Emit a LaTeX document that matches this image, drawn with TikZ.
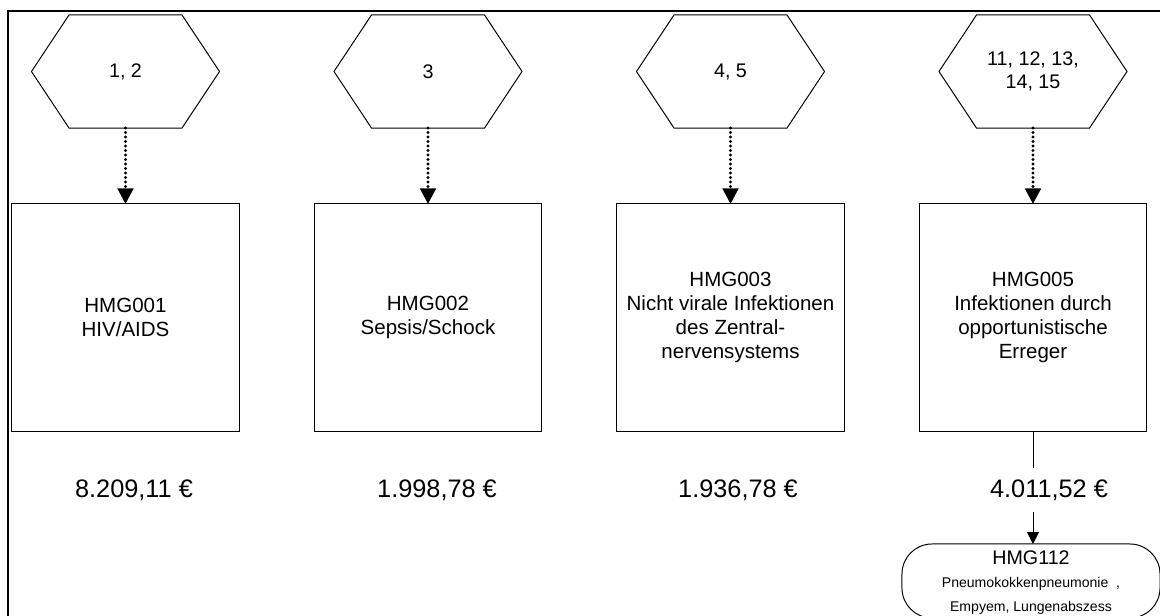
\documentclass[tikz,border=0pt]{standalone}
\usepackage{fontspec}
\setmainfont{Liberation Sans}
\usetikzlibrary{
  arrows.meta,
}
\tikzset{
  hexnode/.style={minimum width=2.825cm,minimum height=2.825cm,inner sep=0pt,outer sep=0pt,align=center,font=\fontsize{14}{16.5}\selectfont},
  hmgbox/.style={draw,minimum width=5.675cm,minimum height=5.675cm,inner sep=1pt,outer sep=0pt,align=center,font=\fontsize{14.6}{17}\selectfont},
  costnode/.style={minimum height=1.1cm,inner sep=0pt,outer sep=0pt,font=\fontsize{18}{21}\selectfont},
  dotarrow/.style={line width=2.2pt,line cap=round,dash pattern=on 0pt off 3.2pt,-{Triangle[width=11pt,length=11pt]}},
  linearrow/.style={-{Triangle[width=8.5pt,length=8.5pt]}},
}
\newcommand\hexoutline[1]{%
  \draw (#1.north west) -- (#1.north east) -- ([xshift=0.9375cm]#1.east)
    -- (#1.south east) -- (#1.south west) -- ([xshift=-0.9375cm]#1.west) -- cycle;}
\begin{document}
\begin{tikzpicture}[x=0.025cm,y=-0.025cm,line width=0.7pt]
\useasboundingbox (0,0) rectangle (1160,616);
\draw[line width=1.8pt] (8,11) rectangle (1180,640);

\node[hexnode] (hex1) at (125.5,71.5) {1, 2};
\node[hexnode] (hex2) at (428,71.5) {3};
\node[hexnode] (hex3) at (730.5,71.5) {4, 5};
\node[hexnode] (hex4) at (1033,71.5) {11, 12, 13,\\14, 15};
\hexoutline{hex1}
\hexoutline{hex2}
\hexoutline{hex3}
\hexoutline{hex4}

\node[hmgbox] (hmg1) at (125.5,317.5) {HMG001\\HIV/AIDS};
\node[hmgbox] (hmg2) at (428,317.5) {HMG002\\Sepsis/Schock};
\node[hmgbox] (hmg3) at (730.5,317.5) {HMG003\\Nicht virale Infektionen\\des Zentral-\\nervensystems};
\node[hmgbox] (hmg5) at (1033,317.5) {HMG005\\Infektionen durch\\opportunistische\\Erreger};

\draw[dotarrow] (hex1.south) -- (hmg1.north);
\draw[dotarrow] (hex2.south) -- (hmg2.north);
\draw[dotarrow] (hex3.south) -- (hmg3.north);
\draw[dotarrow] (hex4.south) -- (hmg5.north);

\node[costnode] (cost1) at (134,490) {8.209,11 €};
\node[costnode] (cost2) at (437,490) {1.998,78 €};
\node[costnode] (cost3) at (738,490) {1.936,78 €};
\node[costnode] (cost5) at (1049,490) {4.011,52 €};

\node[draw,rounded corners=0.75cm,minimum width=6.45cm,minimum height=1.85cm,inner sep=0pt,outer sep=0pt,align=center,font=\fontsize{14}{16.5}\selectfont] (hmg112) at (1031,581)
  {\rule{0pt}{12pt}HMG112\\{\fontsize{10}{16.5}\selectfont Pneumokokkenpneumonie~~,}\\{\fontsize{10}{16.5}\selectfont Empyem, Lungenabszess}};

\draw (hmg5.south) -- (hmg5.south |- cost5.north);
\draw[linearrow] (hmg5.south |- cost5.south) -- (hmg5.south |- hmg112.north);
\end{tikzpicture}
\end{document}
